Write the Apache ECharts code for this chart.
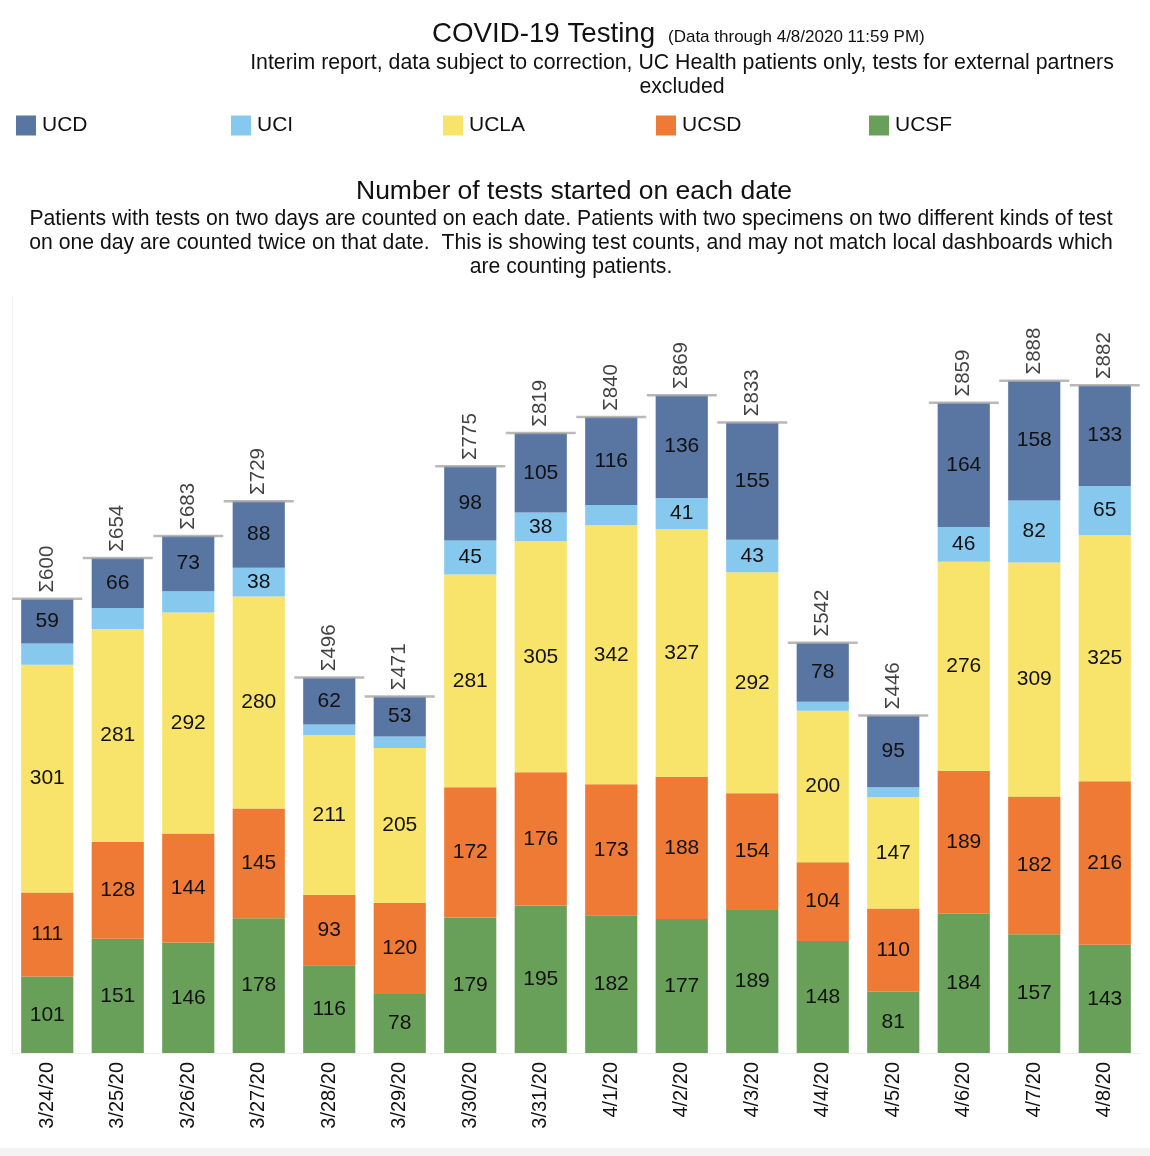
<!DOCTYPE html>
<html><head><meta charset="utf-8">
<script src="https://cdn.jsdelivr.net/npm/echarts@6/dist/echarts.min.js"></script>
<style>html,body{margin:0;padding:0;background:#fff}#c{width:1150px;height:1156px}</style>
</head><body><div id="c"></div>
<script>
const dates = ['3/24/20','3/25/20','3/26/20','3/27/20','3/28/20','3/29/20','3/30/20','3/31/20','4/1/20','4/2/20','4/3/20','4/4/20','4/5/20','4/6/20','4/7/20','4/8/20'];
const UCSF = [101,151,146,178,116,78,179,195,182,177,189,148,81,184,157,143];
const UCSD = [111,128,144,145,93,120,172,176,173,188,154,104,110,189,182,216];
const UCLA = [301,281,292,280,211,205,281,305,342,327,292,200,147,276,309,325];
const UCI  = [28,28,28,38,14,15,45,38,27,41,43,12,13,46,82,65];
const UCD  = [59,66,73,88,62,53,98,105,116,136,155,78,95,164,158,133];
const totals = [600,654,683,729,496,471,775,819,840,869,833,542,446,859,888,882];

const colors = {UCD:'#5876a1', UCI:'#87c8ee', UCLA:'#f8e46b', UCSD:'#ee7a35', UCSF:'#69a059'};
const FONT = 'Liberation Sans, Arial, sans-serif';

function barSeries(name, data){
  return {
    name, type:'bar', stack:'t', data, barWidth:'74%',
    itemStyle:{color:colors[name]},
    label:{show:true, position:'inside', color:'#111', fontSize:21, fontFamily:FONT,
      formatter:p => p.value >= 30 ? String(p.value) : ''},
    emphasis:{disabled:true}
  };
}

const legendNames = ['UCD','UCI','UCLA','UCSD','UCSF'];
const legendX = [16,231,443,656,869];

const chart = echarts.init(document.getElementById('c'));
chart.setOption({
  animation:false,
  textStyle:{fontFamily:FONT},
  legend: legendNames.map((n,i)=>({
    data:[n], left:legendX[i], top:115, padding:0, itemWidth:20, itemHeight:20, icon:'rect',
    itemGap:6, selectedMode:false,
    textStyle:{fontSize:21, color:'#111', fontFamily:FONT, padding:[0,0,0,1]}
  })),
  grid:{left:12, right:10, top:296, bottom:103, containLabel:false},
  xAxis:{type:'category', data:dates,
    axisLine:{show:true, lineStyle:{color:'#eeeeee'}},
    axisTick:{show:false},
    axisLabel:{rotate:90, fontSize:20, color:'#111', margin:9, fontFamily:FONT}
  },
  yAxis:{type:'value', min:0, max:1000, show:true,
    axisLabel:{show:false}, axisTick:{show:false},
    axisLine:{show:true, lineStyle:{color:'#f0f0f0'}},
    splitLine:{show:false}},
  series:[
    barSeries('UCSF', UCSF),
    barSeries('UCSD', UCSD),
    barSeries('UCLA', UCLA),
    barSeries('UCI', UCI),
    barSeries('UCD', UCD),
    {name:'Total', type:'scatter', data:totals, symbol:'rect', symbolSize:[70,2.5],
      itemStyle:{color:'#a8a8a8'}, z:5,
      label:{show:true, position:'top', distance:5, rotate:90, align:'left', verticalAlign:'middle',
        fontSize:20.5, color:'#111', fontFamily:FONT, formatter:p=>'\u03A3'+p.value},
      emphasis:{disabled:true}}
  ],
  graphic:[
    {type:'text', left:432, top:20, style:{text:'COVID-19 Testing', font:'27.7px '+FONT, fill:'#111'}},
    {type:'text', left:668, top:29, style:{text:'(Data through 4/8/2020 11:59 PM)', font:'17px '+FONT, fill:'#111'}},
    {type:'text', x:682, y:51, style:{text:'Interim report, data subject to correction, UC Health patients only, tests for external partners\nexcluded', font:'21.3px '+FONT, fill:'#111', textAlign:'center', lineHeight:24}},
    {type:'text', x:574, y:178, style:{text:'Number of tests started on each date', font:'26.5px '+FONT, fill:'#111', textAlign:'center'}},
    {type:'text', x:571, y:207, style:{text:'Patients with tests on two days are counted on each date. Patients with two specimens on two different kinds of test\non one day are counted twice on that date.  This is showing test counts, and may not match local dashboards which\nare counting patients.', font:'21.2px '+FONT, fill:'#111', textAlign:'center', lineHeight:24}},
    {type:'rect', left:0, top:1148, shape:{width:1150, height:8}, style:{fill:'#f3f3f3'}}
  ]
});
</script></body></html>
